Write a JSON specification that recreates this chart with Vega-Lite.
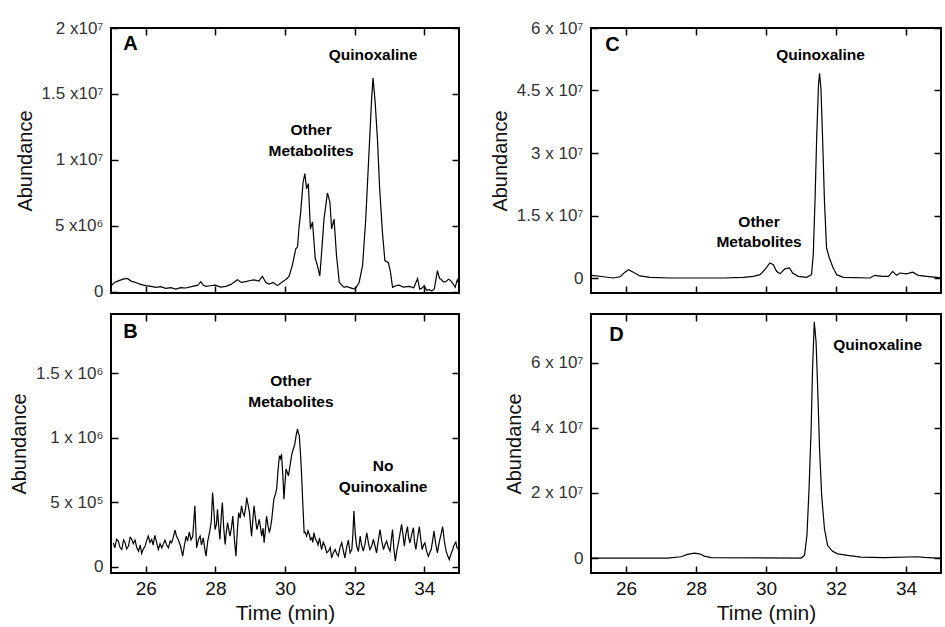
{
  "$schema": "https://vega.github.io/schema/vega-lite/v6.json",
  "padding": {"left": 8, "top": 18, "right": 0, "bottom": 0},
  "datasets": {
    "A": [
      {"t":25.02,"v":500000},{"t":25.1,"v":700000},{"t":25.23,"v":840000},{"t":25.35,"v":950000},{"t":25.47,"v":1000000},{"t":25.58,"v":800000},{"t":25.71,"v":700000},{"t":25.85,"v":550000},{"t":26.0,"v":460000},{"t":26.15,"v":400000},{"t":26.29,"v":330000},{"t":26.43,"v":380000},{"t":26.57,"v":250000},{"t":26.72,"v":300000},{"t":26.86,"v":200000},{"t":27.0,"v":300000},{"t":27.15,"v":280000},{"t":27.34,"v":400000},{"t":27.5,"v":500000},{"t":27.58,"v":760000},{"t":27.65,"v":500000},{"t":27.72,"v":400000},{"t":27.85,"v":450000},{"t":28.0,"v":500000},{"t":28.15,"v":350000},{"t":28.3,"v":400000},{"t":28.45,"v":550000},{"t":28.63,"v":900000},{"t":28.75,"v":700000},{"t":28.87,"v":760000},{"t":29.0,"v":850000},{"t":29.11,"v":900000},{"t":29.25,"v":800000},{"t":29.35,"v":1170000},{"t":29.45,"v":700000},{"t":29.54,"v":580000},{"t":29.66,"v":700000},{"t":29.78,"v":460000},{"t":29.9,"v":700000},{"t":29.98,"v":840000},{"t":30.06,"v":1000000},{"t":30.12,"v":1200000},{"t":30.21,"v":2000000},{"t":30.31,"v":3250000},{"t":30.36,"v":3400000},{"t":30.4,"v":4770000},{"t":30.45,"v":6000000},{"t":30.52,"v":8300000},{"t":30.57,"v":8960000},{"t":30.62,"v":7800000},{"t":30.67,"v":8200000},{"t":30.73,"v":4770000},{"t":30.79,"v":5300000},{"t":30.87,"v":2500000},{"t":30.93,"v":2000000},{"t":31.0,"v":1200000},{"t":31.06,"v":3250000},{"t":31.12,"v":5500000},{"t":31.22,"v":7500000},{"t":31.29,"v":6800000},{"t":31.34,"v":4770000},{"t":31.41,"v":5500000},{"t":31.48,"v":2740000},{"t":31.56,"v":710000},{"t":31.63,"v":500000},{"t":31.7,"v":330000},{"t":31.77,"v":400000},{"t":31.84,"v":330000},{"t":31.93,"v":250000},{"t":32.02,"v":200000},{"t":32.13,"v":700000},{"t":32.23,"v":2000000},{"t":32.32,"v":5500000},{"t":32.42,"v":10900000},{"t":32.49,"v":14700000},{"t":32.53,"v":16200000},{"t":32.59,"v":14400000},{"t":32.66,"v":11400000},{"t":32.72,"v":7800000},{"t":32.8,"v":4500000},{"t":32.87,"v":2360000},{"t":32.97,"v":2200000},{"t":33.03,"v":1500000},{"t":33.09,"v":330000},{"t":33.18,"v":450000},{"t":33.28,"v":500000},{"t":33.4,"v":350000},{"t":33.57,"v":400000},{"t":33.7,"v":300000},{"t":33.81,"v":1000000},{"t":33.87,"v":200000},{"t":33.95,"v":300000},{"t":34.0,"v":460000},{"t":34.07,"v":100000},{"t":34.14,"v":150000},{"t":34.22,"v":50000},{"t":34.29,"v":200000},{"t":34.38,"v":1600000},{"t":34.44,"v":1000000},{"t":34.48,"v":960000},{"t":34.55,"v":750000},{"t":34.62,"v":760000},{"t":34.7,"v":950000},{"t":34.76,"v":840000},{"t":34.83,"v":600000},{"t":34.89,"v":330000},{"t":34.95,"v":900000},{"t":34.98,"v":700000}
    ],
    "B": [
      {"t":25.07,"v":187000},{"t":25.11,"v":148000},{"t":25.16,"v":215000},{"t":25.21,"v":200000},{"t":25.26,"v":150000},{"t":25.31,"v":135000},{"t":25.36,"v":210000},{"t":25.4,"v":192000},{"t":25.45,"v":140000},{"t":25.5,"v":160000},{"t":25.55,"v":230000},{"t":25.59,"v":218000},{"t":25.64,"v":180000},{"t":25.69,"v":208000},{"t":25.74,"v":150000},{"t":25.79,"v":122000},{"t":25.84,"v":170000},{"t":25.88,"v":104000},{"t":25.93,"v":140000},{"t":25.98,"v":160000},{"t":26.02,"v":200000},{"t":26.07,"v":239000},{"t":26.12,"v":190000},{"t":26.17,"v":213000},{"t":26.21,"v":170000},{"t":26.26,"v":244000},{"t":26.31,"v":190000},{"t":26.36,"v":135000},{"t":26.41,"v":180000},{"t":26.46,"v":148000},{"t":26.5,"v":175000},{"t":26.55,"v":208000},{"t":26.6,"v":170000},{"t":26.65,"v":148000},{"t":26.7,"v":200000},{"t":26.74,"v":187000},{"t":26.79,"v":230000},{"t":26.84,"v":286000},{"t":26.88,"v":240000},{"t":26.93,"v":213000},{"t":27.0,"v":160000},{"t":27.06,"v":83000},{"t":27.11,"v":170000},{"t":27.16,"v":239000},{"t":27.2,"v":200000},{"t":27.25,"v":270000},{"t":27.3,"v":210000},{"t":27.35,"v":239000},{"t":27.41,"v":473000},{"t":27.46,"v":148000},{"t":27.51,"v":210000},{"t":27.56,"v":239000},{"t":27.6,"v":170000},{"t":27.65,"v":226000},{"t":27.69,"v":150000},{"t":27.73,"v":83000},{"t":27.78,"v":200000},{"t":27.83,"v":265000},{"t":27.88,"v":350000},{"t":27.92,"v":577000},{"t":27.96,"v":420000},{"t":27.99,"v":290000},{"t":28.03,"v":330000},{"t":28.06,"v":447000},{"t":28.1,"v":300000},{"t":28.13,"v":213000},{"t":28.17,"v":400000},{"t":28.2,"v":499000},{"t":28.24,"v":300000},{"t":28.28,"v":174000},{"t":28.31,"v":260000},{"t":28.35,"v":343000},{"t":28.39,"v":280000},{"t":28.42,"v":239000},{"t":28.46,"v":300000},{"t":28.5,"v":395000},{"t":28.55,"v":200000},{"t":28.59,"v":83000},{"t":28.63,"v":280000},{"t":28.67,"v":421000},{"t":28.71,"v":380000},{"t":28.75,"v":473000},{"t":28.79,"v":420000},{"t":28.83,"v":395000},{"t":28.87,"v":460000},{"t":28.9,"v":538000},{"t":28.94,"v":480000},{"t":28.98,"v":421000},{"t":29.01,"v":320000},{"t":29.04,"v":239000},{"t":29.08,"v":380000},{"t":29.11,"v":473000},{"t":29.15,"v":380000},{"t":29.19,"v":290000},{"t":29.22,"v":320000},{"t":29.26,"v":369000},{"t":29.3,"v":300000},{"t":29.33,"v":239000},{"t":29.37,"v":300000},{"t":29.4,"v":187000},{"t":29.44,"v":300000},{"t":29.47,"v":395000},{"t":29.51,"v":320000},{"t":29.55,"v":265000},{"t":29.58,"v":300000},{"t":29.62,"v":369000},{"t":29.65,"v":450000},{"t":29.68,"v":525000},{"t":29.72,"v":560000},{"t":29.76,"v":603000},{"t":29.8,"v":750000},{"t":29.84,"v":862000},{"t":29.87,"v":840000},{"t":29.9,"v":875000},{"t":29.94,"v":700000},{"t":29.97,"v":525000},{"t":30.0,"v":650000},{"t":30.03,"v":758000},{"t":30.07,"v":730000},{"t":30.1,"v":706000},{"t":30.13,"v":760000},{"t":30.16,"v":810000},{"t":30.2,"v":880000},{"t":30.24,"v":914000},{"t":30.28,"v":950000},{"t":30.32,"v":1020000},{"t":30.36,"v":1070000},{"t":30.38,"v":1040000},{"t":30.41,"v":1020000},{"t":30.44,"v":900000},{"t":30.47,"v":758000},{"t":30.51,"v":499000},{"t":30.55,"v":265000},{"t":30.58,"v":270000},{"t":30.62,"v":239000},{"t":30.66,"v":280000},{"t":30.7,"v":252000},{"t":30.73,"v":210000},{"t":30.77,"v":226000},{"t":30.8,"v":190000},{"t":30.83,"v":265000},{"t":30.87,"v":220000},{"t":30.91,"v":200000},{"t":30.95,"v":170000},{"t":30.99,"v":226000},{"t":31.02,"v":180000},{"t":31.05,"v":135000},{"t":31.1,"v":190000},{"t":31.15,"v":160000},{"t":31.2,"v":110000},{"t":31.25,"v":122000},{"t":31.3,"v":150000},{"t":31.34,"v":70000},{"t":31.39,"v":110000},{"t":31.44,"v":135000},{"t":31.49,"v":100000},{"t":31.53,"v":83000},{"t":31.58,"v":150000},{"t":31.63,"v":187000},{"t":31.68,"v":120000},{"t":31.72,"v":70000},{"t":31.77,"v":150000},{"t":31.82,"v":208000},{"t":31.87,"v":110000},{"t":31.92,"v":135000},{"t":31.95,"v":250000},{"t":31.98,"v":434000},{"t":32.02,"v":250000},{"t":32.06,"v":160000},{"t":32.11,"v":120000},{"t":32.16,"v":239000},{"t":32.2,"v":170000},{"t":32.25,"v":122000},{"t":32.3,"v":180000},{"t":32.35,"v":265000},{"t":32.4,"v":180000},{"t":32.44,"v":135000},{"t":32.49,"v":160000},{"t":32.54,"v":213000},{"t":32.58,"v":170000},{"t":32.63,"v":109000},{"t":32.68,"v":200000},{"t":32.73,"v":290000},{"t":32.78,"v":200000},{"t":32.83,"v":135000},{"t":32.87,"v":170000},{"t":32.92,"v":200000},{"t":32.97,"v":150000},{"t":33.02,"v":122000},{"t":33.05,"v":200000},{"t":33.09,"v":290000},{"t":33.13,"v":140000},{"t":33.17,"v":44000},{"t":33.21,"v":120000},{"t":33.26,"v":187000},{"t":33.3,"v":250000},{"t":33.35,"v":330000},{"t":33.39,"v":250000},{"t":33.43,"v":160000},{"t":33.47,"v":250000},{"t":33.52,"v":312000},{"t":33.55,"v":230000},{"t":33.59,"v":187000},{"t":33.64,"v":250000},{"t":33.69,"v":304000},{"t":33.72,"v":200000},{"t":33.76,"v":135000},{"t":33.81,"v":230000},{"t":33.86,"v":312000},{"t":33.9,"v":220000},{"t":33.94,"v":135000},{"t":33.98,"v":170000},{"t":34.02,"v":187000},{"t":34.07,"v":120000},{"t":34.12,"v":83000},{"t":34.16,"v":110000},{"t":34.2,"v":135000},{"t":34.24,"v":200000},{"t":34.28,"v":278000},{"t":34.33,"v":180000},{"t":34.38,"v":109000},{"t":34.41,"v":160000},{"t":34.45,"v":213000},{"t":34.49,"v":260000},{"t":34.53,"v":312000},{"t":34.58,"v":200000},{"t":34.63,"v":122000},{"t":34.67,"v":90000},{"t":34.72,"v":57000},{"t":34.77,"v":100000},{"t":34.82,"v":135000},{"t":34.86,"v":170000},{"t":34.91,"v":192000},{"t":34.94,"v":150000},{"t":34.98,"v":135000}
    ],
    "C": [
      {"t":25.02,"v":640000},{"t":25.35,"v":300000},{"t":25.64,"v":0},{"t":25.83,"v":300000},{"t":25.97,"v":1400000},{"t":26.07,"v":2000000},{"t":26.21,"v":1400000},{"t":26.4,"v":500000},{"t":26.69,"v":160000},{"t":27.26,"v":0},{"t":28.21,"v":0},{"t":28.78,"v":0},{"t":29.35,"v":160000},{"t":29.64,"v":400000},{"t":29.83,"v":800000},{"t":29.97,"v":2000000},{"t":30.11,"v":3600000},{"t":30.21,"v":3200000},{"t":30.3,"v":1600000},{"t":30.4,"v":1000000},{"t":30.54,"v":2200000},{"t":30.67,"v":2400000},{"t":30.76,"v":1200000},{"t":30.92,"v":400000},{"t":31.16,"v":160000},{"t":31.3,"v":800000},{"t":31.35,"v":5600000},{"t":31.4,"v":18400000},{"t":31.45,"v":34300000},{"t":31.5,"v":46300000},{"t":31.53,"v":49100000},{"t":31.57,"v":45500000},{"t":31.62,"v":32700000},{"t":31.67,"v":18400000},{"t":31.73,"v":7200000},{"t":31.81,"v":4800000},{"t":31.92,"v":2400000},{"t":32.02,"v":800000},{"t":32.21,"v":160000},{"t":32.97,"v":0},{"t":33.11,"v":640000},{"t":33.3,"v":400000},{"t":33.5,"v":400000},{"t":33.62,"v":1600000},{"t":33.73,"v":640000},{"t":33.83,"v":1200000},{"t":34.02,"v":1000000},{"t":34.19,"v":1400000},{"t":34.35,"v":640000},{"t":34.59,"v":400000},{"t":34.88,"v":160000},{"t":35.0,"v":0}
    ],
    "D": [
      {"t":25.0,"v":0},{"t":27.19,"v":0},{"t":27.57,"v":400000},{"t":27.76,"v":1100000},{"t":27.95,"v":1500000},{"t":28.1,"v":1300000},{"t":28.24,"v":600000},{"t":28.43,"v":100000},{"t":31.0,"v":0},{"t":31.1,"v":800000},{"t":31.17,"v":7000000},{"t":31.23,"v":21300000},{"t":31.29,"v":39800000},{"t":31.33,"v":58300000},{"t":31.38,"v":72600000},{"t":31.43,"v":66500000},{"t":31.48,"v":51100000},{"t":31.53,"v":33600000},{"t":31.59,"v":19300000},{"t":31.67,"v":9000000},{"t":31.76,"v":3900000},{"t":31.9,"v":2050000},{"t":32.05,"v":1300000},{"t":32.33,"v":800000},{"t":32.71,"v":300000},{"t":33.38,"v":100000},{"t":34.33,"v":400000},{"t":34.52,"v":200000},{"t":34.9,"v":0},{"t":35.0,"v":0}
    ],
    "annA": [
      {"kind":"letter","label":"A","t":25.56,"v":18800000},
      {"kind":"label","label":"Quinoxaline","t":32.53,"v":17950000},
      {"kind":"label","label":"Other","t":30.75,"v":12300000},
      {"kind":"label","label":"Metabolites","t":30.75,"v":10700000}
    ],
    "annB": [
      {"kind":"letter","label":"B","t":25.56,"v":1820000},
      {"kind":"label","label":"Other","t":30.17,"v":1440000},
      {"kind":"label","label":"Metabolites","t":30.17,"v":1280000},
      {"kind":"label","label":"No","t":32.82,"v":780000},
      {"kind":"label","label":"Quinoxaline","t":32.82,"v":620000}
    ],
    "annC": [
      {"kind":"letter","label":"C","t":25.61,"v":56000000},
      {"kind":"label","label":"Quinoxaline","t":31.56,"v":53600000},
      {"kind":"label","label":"Other","t":29.8,"v":13400000},
      {"kind":"label","label":"Metabolites","t":29.8,"v":8600000}
    ],
    "annD": [
      {"kind":"letter","label":"D","t":25.73,"v":68600000},
      {"kind":"label","label":"Quinoxaline","t":33.19,"v":65500000}
    ]
  },
  "columns": 2,
  "spacing": {"row": 21, "column": 132},
  "bounds": "flush",
  "concat": [
    {
      "width": 348, "height": 265,
      "layer": [
        {"data": {"name": "A"}, "mark": {"type": "line", "color": "black", "strokeWidth": 1.2},
         "encoding": {
           "x": {"field": "t", "type": "quantitative", "scale": {"domain": [25, 35], "nice": false, "zero": false}, "axis": {"values": [26,28,30,32,34], "labels": false, "title": null}},
           "y": {"field": "v", "type": "quantitative", "scale": {"domain": [-100000, 20000000], "nice": false, "zero": false}, "axis": {"values": [0,5000000,10000000,15000000,20000000], "labelExpr": "datum.value == 0 ? '0' : datum.value < 10000000 ? format(datum.value/1000000,'~g') + ' x10⁶' : format(datum.value/10000000,'~g') + ' x10⁷'", "title": "Abundance"}}}},
        {"data": {"name": "A"}, "mark": {"type": "line", "opacity": 0},
         "encoding": {
           "x": {"field": "t", "type": "quantitative", "axis": {"orient": "top", "values": [26,28,30,32,34], "labels": false, "title": null}},
           "y": {"field": "v", "type": "quantitative", "axis": {"orient": "right", "values": [0,5000000,10000000,15000000,20000000], "labels": false, "title": null}}}},
        {"data": {"name": "annA"}, "transform": [{"filter": "datum.kind == 'letter'"}], "mark": {"type": "text", "fontSize": 20, "fontWeight": "bold", "font": "Liberation Sans", "color": "black"},
         "encoding": {"x": {"field": "t", "type": "quantitative", "axis": null}, "y": {"field": "v", "type": "quantitative", "axis": null}, "text": {"field": "label"}}},
        {"data": {"name": "annA"}, "transform": [{"filter": "datum.kind == 'label'"}], "mark": {"type": "text", "fontSize": 15.5, "fontWeight": "bold", "font": "Liberation Sans", "color": "black"},
         "encoding": {"x": {"field": "t", "type": "quantitative", "axis": null}, "y": {"field": "v", "type": "quantitative", "axis": null}, "text": {"field": "label"}}}
      ],
      "resolve": {"axis": {"x": "independent", "y": "independent"}}
    },
    {
      "width": 350, "height": 265,
      "layer": [
        {"data": {"name": "C"}, "mark": {"type": "line", "color": "black", "strokeWidth": 1.2},
         "encoding": {
           "x": {"field": "t", "type": "quantitative", "scale": {"domain": [25, 35], "nice": false, "zero": false}, "axis": {"values": [26,28,30,32,34], "labels": false, "title": null}},
           "y": {"field": "v", "type": "quantitative", "scale": {"domain": [-3600000, 60000000], "nice": false, "zero": false}, "axis": {"values": [0,15000000,30000000,45000000,60000000], "labelExpr": "datum.value == 0 ? '0' : format(datum.value/10000000,'~g') + ' x 10⁷'", "title": "Abundance"}}}},
        {"data": {"name": "C"}, "mark": {"type": "line", "opacity": 0},
         "encoding": {
           "x": {"field": "t", "type": "quantitative", "axis": {"orient": "top", "values": [26,28,30,32,34], "labels": false, "title": null}},
           "y": {"field": "v", "type": "quantitative", "axis": {"orient": "right", "values": [0,15000000,30000000,45000000,60000000], "labels": false, "title": null}}}},
        {"data": {"name": "annC"}, "transform": [{"filter": "datum.kind == 'letter'"}], "mark": {"type": "text", "fontSize": 20, "fontWeight": "bold", "font": "Liberation Sans", "color": "black"},
         "encoding": {"x": {"field": "t", "type": "quantitative", "axis": null}, "y": {"field": "v", "type": "quantitative", "axis": null}, "text": {"field": "label"}}},
        {"data": {"name": "annC"}, "transform": [{"filter": "datum.kind == 'label'"}], "mark": {"type": "text", "fontSize": 15.5, "fontWeight": "bold", "font": "Liberation Sans", "color": "black"},
         "encoding": {"x": {"field": "t", "type": "quantitative", "axis": null}, "y": {"field": "v", "type": "quantitative", "axis": null}, "text": {"field": "label"}}}
      ],
      "resolve": {"axis": {"x": "independent", "y": "independent"}}
    },
    {
      "width": 348, "height": 259,
      "layer": [
        {"data": {"name": "B"}, "mark": {"type": "line", "color": "black", "strokeWidth": 1.2},
         "encoding": {
           "x": {"field": "t", "type": "quantitative", "scale": {"domain": [25, 35], "nice": false, "zero": false}, "axis": {"values": [26,28,30,32,34], "title": "Time (min)"}},
           "y": {"field": "v", "type": "quantitative", "scale": {"domain": [-47000, 1960000], "nice": false, "zero": false}, "axis": {"values": [0,500000,1000000,1500000], "labelExpr": "datum.value == 0 ? '0' : datum.value < 1000000 ? format(datum.value/100000,'~g') + ' x 10⁵' : format(datum.value/1000000,'~g') + ' x 10⁶'", "title": "Abundance"}}}},
        {"data": {"name": "B"}, "mark": {"type": "line", "opacity": 0},
         "encoding": {
           "x": {"field": "t", "type": "quantitative", "axis": {"orient": "top", "values": [26,28,30,32,34], "labels": false, "title": null}},
           "y": {"field": "v", "type": "quantitative", "axis": {"orient": "right", "values": [0,500000,1000000,1500000], "labels": false, "title": null}}}},
        {"data": {"name": "annB"}, "transform": [{"filter": "datum.kind == 'letter'"}], "mark": {"type": "text", "fontSize": 20, "fontWeight": "bold", "font": "Liberation Sans", "color": "black"},
         "encoding": {"x": {"field": "t", "type": "quantitative", "axis": null}, "y": {"field": "v", "type": "quantitative", "axis": null}, "text": {"field": "label"}}},
        {"data": {"name": "annB"}, "transform": [{"filter": "datum.kind == 'label'"}], "mark": {"type": "text", "fontSize": 15.5, "fontWeight": "bold", "font": "Liberation Sans", "color": "black"},
         "encoding": {"x": {"field": "t", "type": "quantitative", "axis": null}, "y": {"field": "v", "type": "quantitative", "axis": null}, "text": {"field": "label"}}}
      ],
      "resolve": {"axis": {"x": "independent", "y": "independent"}}
    },
    {
      "width": 350, "height": 259,
      "layer": [
        {"data": {"name": "D"}, "mark": {"type": "line", "color": "black", "strokeWidth": 1.2},
         "encoding": {
           "x": {"field": "t", "type": "quantitative", "scale": {"domain": [25, 35], "nice": false, "zero": false}, "axis": {"values": [26,28,30,32,34], "title": "Time (min)"}},
           "y": {"field": "v", "type": "quantitative", "scale": {"domain": [-4600000, 75000000], "nice": false, "zero": false}, "axis": {"values": [0,20000000,40000000,60000000], "labelExpr": "datum.value == 0 ? '0' : format(datum.value/10000000,'~g') + ' x 10⁷'", "title": "Abundance"}}}},
        {"data": {"name": "D"}, "mark": {"type": "line", "opacity": 0},
         "encoding": {
           "x": {"field": "t", "type": "quantitative", "axis": {"orient": "top", "values": [26,28,30,32,34], "labels": false, "title": null}},
           "y": {"field": "v", "type": "quantitative", "axis": {"orient": "right", "values": [0,20000000,40000000,60000000], "labels": false, "title": null}}}},
        {"data": {"name": "annD"}, "transform": [{"filter": "datum.kind == 'letter'"}], "mark": {"type": "text", "fontSize": 20, "fontWeight": "bold", "font": "Liberation Sans", "color": "black"},
         "encoding": {"x": {"field": "t", "type": "quantitative", "axis": null}, "y": {"field": "v", "type": "quantitative", "axis": null}, "text": {"field": "label"}}},
        {"data": {"name": "annD"}, "transform": [{"filter": "datum.kind == 'label'"}], "mark": {"type": "text", "fontSize": 15.5, "fontWeight": "bold", "font": "Liberation Sans", "color": "black"},
         "encoding": {"x": {"field": "t", "type": "quantitative", "axis": null}, "y": {"field": "v", "type": "quantitative", "axis": null}, "text": {"field": "label"}}}
      ],
      "resolve": {"axis": {"x": "independent", "y": "independent"}}
    }
  ],
  "config": {
    "font": "Liberation Sans",
    "background": "white",
    "view": {"stroke": "black", "strokeWidth": 2},
    "axis": {
      "grid": false,
      "domain": false,
      "tickColor": "black",
      "tickSize": -7,
      "tickWidth": 1.5,
      "labelFont": "Liberation Sans",
      "labelFontSize": 17,
      "labelColor": "#333333",
      "labelFlush": false,
      "labelOverlap": false,
      "labelPadding": 15,
      "titleFont": "Liberation Sans",
      "titleFontSize": 20,
      "titleFontWeight": "normal",
      "titleColor": "#111111"
    },
    "axisX": {"labelFontSize": 19, "labelColor": "#111111", "titleFontSize": 21, "labelPadding": 13, "titlePadding": 4},
    "axisY": {"titlePadding": 6}
  }
}
